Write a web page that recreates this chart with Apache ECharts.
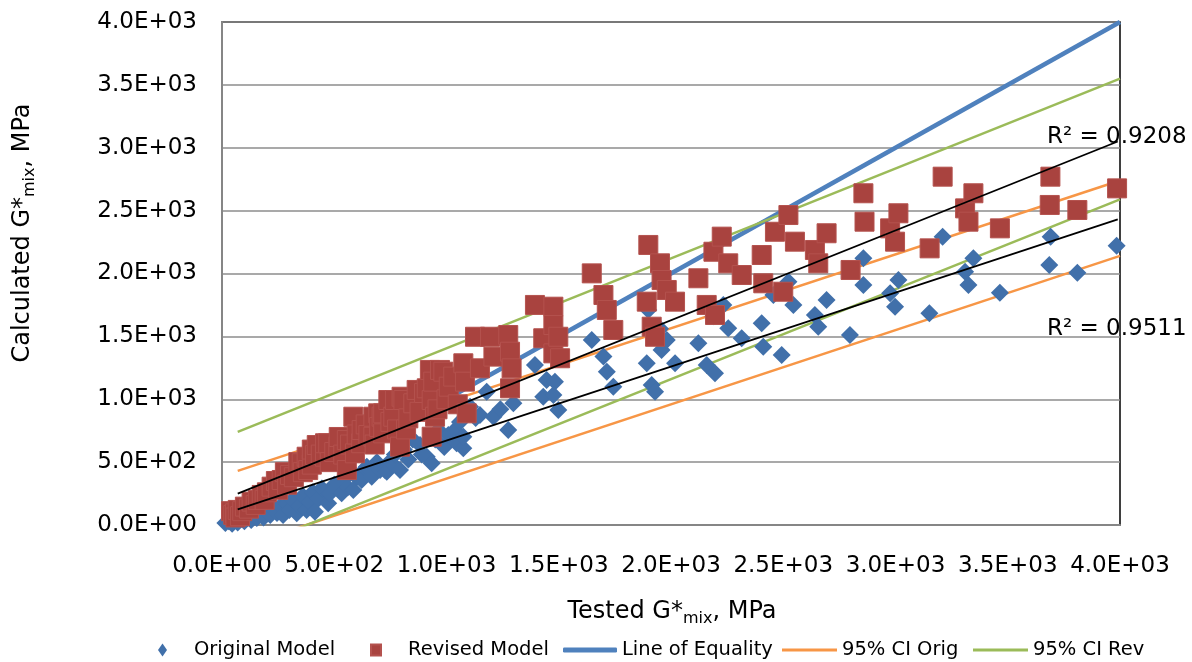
<!DOCTYPE html>
<html><head><meta charset="utf-8">
<script src="https://cdn.jsdelivr.net/npm/echarts@6/dist/echarts.min.js"></script>
<style>html,body{margin:0;padding:0;background:#fff}#c{width:1192px;height:662px}</style>
</head><body><div id="c"></div>
<script>
const tickLabels = ['0.0E+00','5.0E+02','1.0E+03','1.5E+03','2.0E+03','2.5E+03','3.0E+03','3.5E+03','4.0E+03'];

const originalModel = [
[15,15],[30,30],[45,10],[60,40],[70,20],[85,50],[100,30],[115,60],[130,40],[140,75],[155,55],[170,90],[185,60],[200,110],[215,80],[230,130],[245,95],[260,150],[272,80],[290,170],[300,120],[315,200],[333,93],[345,150],[360,230],[377,119],[390,180],[405,260],[414,106],[430,210],[445,290],[473,172],[480,250],[500,320],[533,252],[540,360],[560,300],[585,278],[585,411],[600,380],[622,358],[640,450],[645,464],[667,384],[690,500],[704,437],[726,437],[734,424],[748,504],[756,491],[770,560],[793,437],[810,600],[830,520],[850,680],[882,636],[890,560],[912,543],[934,491],[950,680],[964,755],[990,620],[1008,716],[1038,755],[1045,650],[1060,820],[1075,610],[1075,702],[1105,941],[1130,850],[1149,875],[1179,1060],[1209,861],[1240,920],[1275,755],[1298,968],
[1394,1272],[1446,1153],[1483,1140],[1431,1020],[1476,1034],[1498,915],[1647,1471],[1699,1339],[1714,1219],[1743,1100],[1899,1710],[1951,1560],[1958,1392],[1981,1471],[2018,1286],[1892,1286],[1914,1113],[1929,1060],[2122,1445],[2159,1272],[2189,1660],[2196,1206],[2233,1750],[2255,1564],[2315,1485],[2404,1604],[2411,1418],[2456,1829],[2493,1352],[2523,1935],[2545,1750],[2641,1670],[2656,1577],[2693,1789],[2797,1511],[2857,2121],[2857,1909],[2976,1842],[2998,1736],[3013,1948],[3151,1683],[3210,2293],[3310,2014],[3325,1909],[3347,2121],[3465,1847],[3685,2068],[3691,2293],[3810,2006],[3985,2221]
];

const revisedModel = [
[40,110],[50,80],[58,93],[60,60],[70,120],[80,70],[90,110],[102,146],[120,130],[132,186],[150,160],[160,200],[177,239],[190,200],[200,260],[221,305],[240,350],[250,280],[266,358],[280,420],[290,320],[303,398],[320,380],[340,500],[355,491],[360,420],[377,543],[384,437],[400,480],[400,600],[414,557],[422,636],[440,560],[459,543],[459,650],[473,650],[480,500],[500,580],[518,623],[520,700],[540,560],[556,676],[556,437],[570,640],[585,861],[592,570],[600,720],[620,650],[622,755],[640,800],[652,716],[674,702],[674,861],[680,640],[696,888],[700,780],[711,861],[718,888],[718,729],[741,994],[750,820],[763,861],[771,994],[780,760],[793,623],[800,1020],[808,994],[820,760],[830,848],[852,968],[867,1074],[880,900],[900,1050],[912,1087],[926,1233],[934,994],[934,702],[941,1140],[949,861],[960,920],[971,1233],[986,1219],[1000,1000],[1010,1100],[1030,1180],[1050,960],
[1075,1286],[1082,1140],[1090,888],[1127,1497],[1149,1246],[1194,1497],[1209,1339],[1275,1511],[1283,1378],[1283,1087],[1290,1246],[1394,1750],[1431,1485],[1476,1736],[1476,1590],[1476,1365],[1498,1497],[1506,1326],[1647,2001],[1699,1829],[1714,1710],[1743,1551],[1892,1776],[1899,2227],[1914,1577],[1929,1497],[1951,2081],[1958,1948],[1981,1869],[2018,1776],[2122,1962],[2159,1750],[2189,2173],[2196,1670],[2226,2293],[2255,2081],[2315,1988],[2404,2147],[2411,1922],[2463,2332],[2500,1855],[2523,2465],[2552,2253],[2641,2187],[2656,2081],[2693,2320],[2800,2028],[2857,2638],[2862,2412],[2976,2359],[2998,2253],[3013,2479],[3152,2200],[3210,2770],[3310,2518],[3325,2412],[3347,2638],[3465,2359],[3687,2545],[3690,2770],[3810,2505],[3987,2677]
];

const lineOfEquality = [[0,0],[4000,4000]];
const ciOrigUpper = [[70,430],[4000,2740]];
const ciOrigLower = [[70,-180],[4000,2140]];
const ciRevUpper = [[70,740],[4000,3550]];
const ciRevLower = [[70,-220],[4000,2590]];
const trendOriginal = [[70,125],[3990,2430]];
const trendRevised = [[70,250],[3990,3050]];
const r2Texts = ['R² = 0.9208','R² = 0.9511'];

const FONT = 'DejaVu Sans';
const chart = echarts.init(document.getElementById('c'), null, {renderer:'canvas'});

function lineSeries(name, data, color, width, z) {
  return {name, type:'line', data, symbol:'none', showSymbol:false, z,
    lineStyle:{color, width}, itemStyle:{color}, clip:true, silent:true};
}
function legendItem(name, icon, left, w, h, pad, color) {
  const o = {data:[{name, icon}], left, top:640, itemWidth:w, itemHeight:h, padding:0,
    textStyle:{fontFamily:FONT, fontSize:19.5, color:'#000', padding:[0,0,0,pad]}};
  if (color) o.itemStyle = {color};
  return o;
}
const richTitle = {
  a:{fontFamily:FONT, fontSize:24, color:'#000', lineHeight:30},
  s:{fontFamily:FONT, fontSize:16, color:'#000', lineHeight:16, verticalAlign:'bottom'}
};

chart.setOption({
  animation:false,
  backgroundColor:'#fff',
  grid:{left:222, right:72, top:22, bottom:137, show:true, borderColor:'#000', borderWidth:1.5, backgroundColor:'transparent'},
  xAxis:{type:'value', min:0, max:4000, interval:500,
    axisLine:{show:true, lineStyle:{color:'#868686', width:2}}, axisTick:{show:false},
    splitLine:{show:false},
    axisLabel:{fontFamily:FONT, fontSize:23, color:'#000', margin:30, formatter:v=>tickLabels[Math.round(v/500)]}},
  yAxis:{type:'value', min:0, max:4000, interval:500,
    axisLine:{show:true, lineStyle:{color:'#868686', width:2}}, axisTick:{show:false},
    splitLine:{show:true, lineStyle:{color:'#8c8c8c', width:1.5}},
    axisLabel:{fontFamily:FONT, fontSize:23, color:'#000', margin:25, formatter:v=>tickLabels[Math.round(v/500)]}},
  legend:[
    legendItem('Original Model','diamond',158,9,13,22),
    legendItem('Revised Model','rect',370,10,11,22),
    legendItem('Line of Equality','roundRect',563,54,5,0,'#4F81BD'),
    legendItem('95% CI Orig','rect',782,55,3,0,'#F79646'),
    legendItem('95% CI Rev','rect',973,55,3,0,'#9BBB59')
  ],
  graphic:[
    {type:'text', x:672, y:612, style:{text:'{a|Tested G*}{s|mix}{a|, MPa}', rich:richTitle, align:'center', verticalAlign:'middle'}},
    {type:'text', x:23, y:233, rotation:Math.PI/2, style:{text:'{a|Calculated G*}{s|mix}{a|, MPa}', rich:richTitle, align:'center', verticalAlign:'middle'}},
    {type:'text', x:1047, y:137, z:100, style:{text:r2Texts[0], fontFamily:FONT, fontSize:23, fill:'#000', align:'left', verticalAlign:'middle'}},
    {type:'text', x:1047, y:329, z:100, style:{text:r2Texts[1], fontFamily:FONT, fontSize:23, fill:'#000', align:'left', verticalAlign:'middle'}}
  ],
  series:[
    lineSeries('Line of Equality', lineOfEquality, '#4F81BD', 4.5, 1),
    lineSeries('95% CI Orig', ciOrigUpper, '#F79646', 2.5, 1),
    lineSeries('95% CI Orig', ciOrigLower, '#F79646', 2.5, 1),
    lineSeries('95% CI Rev', ciRevUpper, '#9BBB59', 2.5, 1),
    lineSeries('95% CI Rev', ciRevLower, '#9BBB59', 2.5, 1),
    {name:'Original Model', type:'scatter', data:originalModel, symbol:'diamond', symbolSize:18, z:2,
      itemStyle:{color:'#4170AA', opacity:1}},
    {name:'Revised Model', type:'scatter', data:revisedModel, symbol:'rect', symbolSize:19, z:3,
      itemStyle:{color:'#A9433F', borderColor:'#B4524E', borderWidth:1, opacity:1}},
    lineSeries('trendOriginal', trendOriginal, '#000', 1.8, 4),
    lineSeries('trendRevised', trendRevised, '#000', 1.8, 4)
  ]
});
</script></body></html>
